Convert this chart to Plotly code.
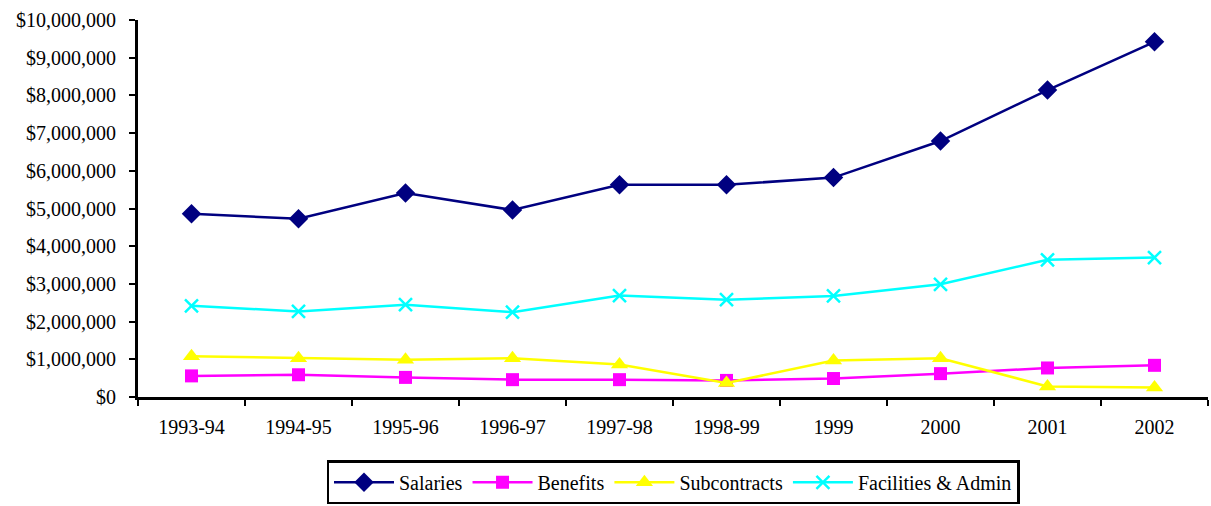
import plotly.graph_objects as go

categories = ["1993-94", "1994-95", "1995-96", "1996-97", "1997-98",
              "1998-99", "1999", "2000", "2001", "2002"]
salaries = [4860000, 4730000, 5410000, 4960000, 5630000, 5630000, 5820000, 6790000, 8140000, 9420000]
benefits = [560000, 590000, 520000, 460000, 460000, 440000, 490000, 620000, 770000, 840000]
subcontracts = [1080000, 1030000, 990000, 1030000, 860000, 370000, 970000, 1030000, 280000, 250000]
facilities = [2420000, 2270000, 2450000, 2250000, 2690000, 2580000, 2680000, 2990000, 3640000, 3700000]
y_ticks = [0, 1000000, 2000000, 3000000, 4000000, 5000000, 6000000, 7000000, 8000000, 9000000, 10000000]
y_labels = ["$" + f"{v:,}" for v in y_ticks]

FONT = "Liberation Serif"

fig = go.Figure()
series = [
    ("Salaries", salaries, "#000080", "diamond", 15),
    ("Benefits", benefits, "#FF00FF", "square", 13),
    ("Subcontracts", subcontracts, "#FFFF00", "triangle-up", 15),
    ("Facilities & Admin", facilities, "#00FFFF", "x-thin", 13),
]
for name, vals, color, sym, size in series:
    marker = dict(symbol=sym, size=size, color=color)
    if sym == "x-thin":
        marker["line"] = dict(color=color, width=2.5)
    fig.add_trace(go.Scatter(
        x=categories, y=vals, name=name, mode="lines+markers",
        line=dict(color=color, width=2.5), marker=marker,
    ))

fig.update_layout(
    width=1211, height=506,
    margin=dict(l=138, r=3, t=20, b=109, autoexpand=False),
    paper_bgcolor="white", plot_bgcolor="white",
    font=dict(family=FONT, size=20, color="black"),
    showlegend=True,
    legend=dict(
        orientation="h", x=0.5, xanchor="center", y=-0.168, yanchor="top",
        bordercolor="black", borderwidth=2.5, font=dict(family=FONT, size=20, color="black"),
        itemwidth=60, tracegroupgap=0,
    ),
    xaxis=dict(
        showline=True, linecolor="black", linewidth=3, showgrid=False,
        ticks="outside", tickson="boundaries", ticklen=6, tickwidth=2, tickcolor="black",
        range=[-0.5, 9.5], zeroline=False, automargin=False, ticklabelstandoff=10,
        tickfont=dict(family=FONT, size=20, color="black"),
    ),
    yaxis=dict(
        showline=True, linecolor="black", linewidth=3, showgrid=False,
        range=[0, 10000000], tickvals=y_ticks, ticktext=y_labels,
        ticks="outside", ticklen=6, tickwidth=2, tickcolor="black", zeroline=False,
        automargin=False, ticklabelstandoff=9,
        tickfont=dict(family=FONT, size=20, color="black"),
    ),
)

fig.write_html("out.html", post_script="document.body.style.margin='0';",
               config={"displayModeBar": False})
